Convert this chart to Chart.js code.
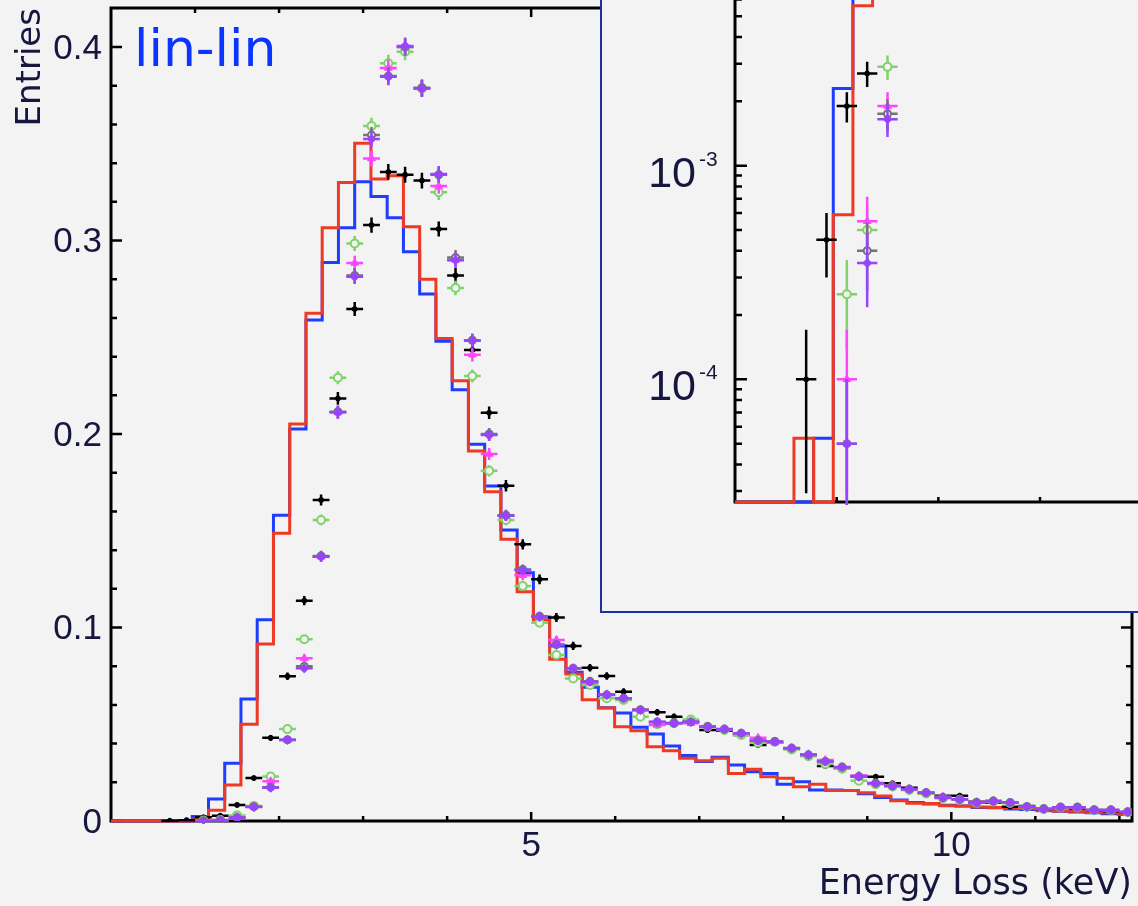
<!DOCTYPE html>
<html>
<head>
<meta charset="utf-8">
<title>Energy Loss</title>
<script src="https://cdn.jsdelivr.net/npm/chart.js@4.4.1/dist/chart.umd.min.js"></script>
<style>
  html, body { margin: 0; padding: 0; background: #f3f3f3; overflow: hidden; }
  #stage { position: relative; width: 1138px; height: 906px; overflow: hidden; background: #f3f3f3; }
  #mainChart { position: absolute; left: 0; top: 0; }
  #insetBox {
    position: absolute; left: 600px; top: -10px; width: 600px; height: 623px;
    box-sizing: border-box; background: #f3f3f3;
    border-left: 2px solid #1b2fa8; border-bottom: 2px solid #1b2fa8;
  }
  #insetChart { position: absolute; left: 600px; top: -54px; }
  #tag {
    position: absolute; left: 134px; top: 22px; line-height: 1;
    font-family: 'DejaVu Sans', sans-serif; font-size: 52px; color: #0b35ff;
  }
</style>
</head>
<body>
<div id="stage">
  <canvas id="mainChart" width="1138" height="906"></canvas>
  <div id="tag">lin-lin</div>
  <div id="insetBox"></div>
  <canvas id="insetChart" width="570" height="620"></canvas>
</div>
<script>
// binning (keV)
const HIST_BIN_WIDTH = 0.19333;   // simulated histograms
const DATA_BIN_WIDTH = 0.2;       // data points
const ENTRY_WEIGHT = 5e-5;        // weight of one entry, gives the poisson error bars

// simulated histograms, one value per bin starting at 0 keV
const histRed = [
  0, 0, 0, 0.000053, 0, 0.00059, 0.0056, 0.0186, 0.050, 0.0915,
  0.1487, 0.2052, 0.2624, 0.3066, 0.330, 0.3503, 0.3318, 0.3335, 0.3071, 0.280,
  0.2494, 0.2275, 0.1912, 0.1702, 0.1456, 0.1185, 0.1039, 0.0836, 0.076, 0.0627,
  0.0584, 0.0487, 0.0467, 0.0384, 0.0363, 0.0324, 0.0312, 0.0324, 0.0246, 0.0267,
  0.0229, 0.0221, 0.0177, 0.0190, 0.0157, 0.0157, 0.0146, 0.0129, 0.0105, 0.0092,
  0.0090, 0.0079, 0.0077, 0.0072, 0.0070, 0.0066, 0.0064, 0.0053, 0.0052, 0.0050,
  0.0044, 0.0042, 0.0036
];
const histBlue = [
  0, 0, 0, 0, 0.000053, 0.0023, 0.0114, 0.0298, 0.063, 0.104,
  0.158, 0.2026, 0.259, 0.2887, 0.3066, 0.3304, 0.3228, 0.3118, 0.2942, 0.2724,
  0.248, 0.2229, 0.1947, 0.1731, 0.1504, 0.1283, 0.1055, 0.0904, 0.0769, 0.0691,
  0.0585, 0.0558, 0.0484, 0.0450, 0.0388, 0.0338, 0.0307, 0.0329, 0.0289, 0.0255,
  0.0246, 0.0190, 0.0203, 0.0160, 0.0160, 0.0158, 0.0141, 0.0122, 0.0108, 0.0095,
  0.0088, 0.0082, 0.0077, 0.0070, 0.0068, 0.0062, 0.0060, 0.0055, 0.0050, 0.0047,
  0.0042, 0.0038, 0.0035
];

// data points, one value per 0.2 keV bin starting at 0 keV (0 = empty bin)
const dataBlack = [
  0, 0, 0, 0.0001, 0.00045, 0.0019, 0.0027, 0.0083, 0.0222, 0.043,
  0.0748, 0.1139, 0.1659, 0.2184, 0.2646, 0.308, 0.3355, 0.334, 0.331, 0.306,
  0.282, 0.2434, 0.211, 0.1733, 0.143, 0.1249, 0.1052, 0.0905, 0.0792, 0.0749,
  0.0668, 0.0574, 0.0562, 0.0539, 0.0513, 0.047, 0.0467, 0.0444, 0.0393, 0.0405,
  0.0376, 0.0345, 0.0284, 0.0272, 0.0233, 0.0229, 0.0195, 0.0172, 0.0143, 0.0131,
  0.0131, 0.0100, 0.0095, 0.0074, 0.0078, 0.0060, 0.0071, 0.0065, 0.0053, 0.0050,
  0.0043
];
const dataGreen = [
  0, 0, 0, 0, 0, 0.00025, 0.0005, 0.0029, 0.0078, 0.0230,
  0.0475, 0.0939, 0.1556, 0.2291, 0.2985, 0.3592, 0.3916, 0.3976, 0.3786, 0.3250,
  0.2755, 0.230, 0.181, 0.1556, 0.1214, 0.1025, 0.0858, 0.0737, 0.0703, 0.0634,
  0.0625, 0.0539, 0.050, 0.0505, 0.0525, 0.0487, 0.0470, 0.0445, 0.0405, 0.041,
  0.037, 0.0335, 0.0295, 0.027, 0.0208, 0.019, 0.0178, 0.016, 0.0142, 0.0118,
  0.011, 0.0094, 0.0101, 0.0093, 0.0073, 0.0062, 0.007, 0.007, 0.0057, 0.0056,
  0.0046
];
const dataMagenta = [
  0, 0, 0, 0, 0, 0.0001, 0.00055, 0.0019, 0.0074, 0.0205,
  0.0419, 0.0841, 0.1366, 0.2112, 0.2884, 0.3424, 0.3892, 0.400, 0.3786, 0.3282,
  0.290, 0.2410, 0.1897, 0.1578, 0.127, 0.1056, 0.0935, 0.0789, 0.0715, 0.0655,
  0.0634, 0.0574, 0.0496, 0.0505, 0.0505, 0.0487, 0.0474, 0.0453, 0.043, 0.0405,
  0.0376, 0.0345, 0.0315, 0.0278, 0.0235, 0.0195, 0.0185, 0.0164, 0.0146, 0.0125,
  0.0112, 0.0098, 0.0103, 0.0095, 0.0074, 0.0062, 0.0071, 0.0071, 0.0057, 0.0057,
  0.0047
];
const dataGray = [
  0, 0, 0, 0, 0, 0.00005, 0.0004, 0.00175, 0.0074, 0.0175,
  0.042, 0.080, 0.1370, 0.2115, 0.2820, 0.3545, 0.3850, 0.4000, 0.3790, 0.3340,
  0.2913, 0.2485, 0.2000, 0.1580, 0.1300, 0.1058, 0.0912, 0.0790, 0.0722, 0.0652,
  0.0635, 0.0575, 0.0512, 0.0506, 0.0512, 0.0488, 0.0475, 0.0454, 0.0416, 0.0411,
  0.0377, 0.0342, 0.0308, 0.0279, 0.0230, 0.0196, 0.0182, 0.0165, 0.0147, 0.0121,
  0.0113, 0.0096, 0.0103, 0.0095, 0.0074, 0.0063, 0.0071, 0.0071, 0.0057, 0.0057,
  0.0047
];
const dataPurple = [
  0, 0, 0, 0, 0, 0.00005, 0.00035, 0.00165, 0.0072, 0.0172,
  0.0419, 0.0789, 0.1366, 0.2112, 0.2813, 0.3525, 0.3847, 0.4005, 0.3786, 0.3344,
  0.2898, 0.2482, 0.1995, 0.1578, 0.1297, 0.1056, 0.091, 0.0789, 0.072, 0.0651,
  0.0634, 0.0574, 0.0513, 0.0505, 0.0513, 0.0487, 0.0474, 0.0453, 0.0415, 0.041,
  0.0376, 0.0341, 0.0307, 0.0278, 0.0229, 0.0195, 0.0181, 0.0164, 0.0146, 0.0120,
  0.0112, 0.0095, 0.0103, 0.0095, 0.0074, 0.0062, 0.0071, 0.0071, 0.0057, 0.0057,
  0.0047
];

// ticks
const xLabelTicks = [5, 10];
const xMinorTicks = [1, 2, 3, 4, 5, 6, 7, 8, 9, 10, 11, 12];
const yLabelTicks = [0, 0.1, 0.2, 0.3, 0.4];
const yMinorTicks = [0.02, 0.04, 0.06, 0.08, 0.12, 0.14, 0.16, 0.18,
                     0.22, 0.24, 0.26, 0.28, 0.32, 0.34, 0.36, 0.38];
const insetDecades = [[1e-4, '-4'], [1e-3, '-3']];
const insetMinorTicks = [3e-5, 4e-5, 5e-5, 6e-5, 7e-5, 8e-5, 9e-5,
                         2e-4, 3e-4, 4e-4, 5e-4, 6e-4, 7e-4, 8e-4, 9e-4,
                         2e-3, 3e-3, 4e-3, 5e-3, 6e-3, 7e-3, 8e-3, 9e-3];
const insetXTicks = [1, 2, 3, 4];

const INSET_MIN = 2.667e-5;
const INK = '#16163f';
const BG = '#f3f3f3';
const TICK_FONT = "'Liberation Sans', Arial, Helvetica, sans-serif";
const TITLE_FONT = "'DejaVu Sans', sans-serif";

const histSeries = [
  { values: histRed,  color: '#ee3a24', order: 6 },
  { values: histBlue, color: '#1e3dff', order: 7 }
];
const pointSeries = [
  { values: dataPurple,  color: '#9843ff', style: 'rectRot',  radius: 4.5, face: '#9843ff', order: 1 },
  { values: dataGray,    color: '#747474', style: 'circle',   radius: 3.5, face: BG,        order: 2 },
  { values: dataMagenta, color: '#ff45ff', style: 'triangle', radius: 4.5, face: '#ff45ff', order: 3 },
  { values: dataGreen,   color: '#7fd36a', style: 'circle',   radius: 4,   face: BG,        order: 4 },
  { values: dataBlack,   color: '#000000', style: 'circle',   radius: 2.5, face: '#000000', order: 5 }
];

function histPoints(values, floor) {
  const pts = values.map((v, k) => ({ x: k * HIST_BIN_WIDTH, y: (floor && v <= 0) ? floor : v }));
  pts.push({ x: values.length * HIST_BIN_WIDTH, y: pts[pts.length - 1].y });
  return pts;
}

function dataPoints(values) {
  return values.map((v, j) => ({ x: (j + 0.5) * DATA_BIN_WIDTH, y: v })).filter(p => p.y > 0);
}

function buildDatasets(floor) {
  const hists = histSeries.map(s => ({
    type: 'line',
    data: histPoints(s.values, floor),
    borderColor: s.color,
    borderWidth: 3,
    stepped: true,
    pointRadius: 0,
    fill: false,
    order: s.order,
    clip: { left: 0, top: 0, right: 0, bottom: 3 }
  }));
  const points = pointSeries.map(s => ({
    type: 'scatter',
    data: dataPoints(s.values),
    showLine: false,
    pointStyle: s.style,
    pointRadius: s.radius,
    pointBackgroundColor: s.face,
    pointBorderColor: s.color,
    pointBorderWidth: s.face === s.color ? 1 : 2,
    order: s.order,
    errColor: s.color
  }));
  return hists.concat(points);
}

// poisson error bars, drawn just before each dataset's markers
const errorBars = {
  id: 'errorBars',
  beforeDatasetDraw(chart, args) {
    const ds = chart.data.datasets[args.index];
    if (!ds.errColor) return;
    const { ctx, chartArea: a, scales: { x, y } } = chart;
    ctx.save();
    ctx.beginPath();
    ctx.rect(a.left, a.top, a.right - a.left, a.bottom - a.top + 3);
    ctx.clip();
    ctx.strokeStyle = ds.errColor;
    ctx.lineWidth = 2.5;
    ctx.beginPath();
    ds.data.forEach(p => {
      const err = Math.sqrt(p.y * ENTRY_WEIGHT);
      const px = x.getPixelForValue(p.x);
      const py = y.getPixelForValue(p.y);
      ctx.moveTo(x.getPixelForValue(p.x - DATA_BIN_WIDTH / 2), py);
      ctx.lineTo(x.getPixelForValue(p.x + DATA_BIN_WIDTH / 2), py);
      const lo = p.y - err;
      const yLo = lo > y.min ? y.getPixelForValue(lo) : a.bottom + 5;
      ctx.moveTo(px, y.getPixelForValue(p.y + err));
      ctx.lineTo(px, yLo);
    });
    ctx.stroke();
    ctx.restore();
  }
};

// box with inward ticks for the main plot
const mainFrame = {
  id: 'mainFrame',
  beforeDatasetsDraw(chart) {
    const { ctx, chartArea: a, scales: { x, y } } = chart;
    ctx.save();
    ctx.strokeStyle = '#000';
    ctx.lineWidth = 3;
    ctx.strokeRect(a.left, a.top, a.right - a.left, a.bottom - a.top);
    ctx.lineWidth = 2.5;
    ctx.beginPath();
    xMinorTicks.forEach(v => {
      const len = xLabelTicks.includes(v) ? 9 : 5;
      const px = x.getPixelForValue(v);
      ctx.moveTo(px, a.bottom); ctx.lineTo(px, a.bottom - len);
      ctx.moveTo(px, a.top); ctx.lineTo(px, a.top + len);
    });
    const yTicks = yLabelTicks.map(v => [v, 11]).concat(yMinorTicks.map(v => [v, 6]));
    yTicks.forEach(([v, len]) => {
      const py = y.getPixelForValue(v);
      ctx.moveTo(a.left, py); ctx.lineTo(a.left + len, py);
      ctx.moveTo(a.right, py); ctx.lineTo(a.right - len, py);
    });
    ctx.stroke();
    ctx.restore();
  }
};

// axes, ticks and power-of-ten labels for the log inset
const insetAxes = {
  id: 'insetAxes',
  beforeDatasetsDraw(chart) {
    const { ctx, chartArea: a, scales: { x, y } } = chart;
    ctx.save();
    ctx.strokeStyle = '#000';
    ctx.lineWidth = 3;
    ctx.beginPath();
    ctx.moveTo(a.left, a.top); ctx.lineTo(a.left, a.bottom); ctx.lineTo(a.right, a.bottom);
    ctx.stroke();
    ctx.lineWidth = 2.5;
    ctx.beginPath();
    insetDecades.forEach(([v]) => {
      const py = y.getPixelForValue(v);
      ctx.moveTo(a.left, py); ctx.lineTo(a.left + 12, py);
    });
    insetMinorTicks.forEach(v => {
      const py = y.getPixelForValue(v);
      ctx.moveTo(a.left, py); ctx.lineTo(a.left + 7, py);
    });
    insetXTicks.forEach(v => {
      const px = x.getPixelForValue(v);
      ctx.moveTo(px, a.bottom); ctx.lineTo(px, a.bottom - 5);
    });
    ctx.stroke();
    ctx.fillStyle = INK;
    ctx.textBaseline = 'alphabetic';
    insetDecades.forEach(([v, exp]) => {
      const py = y.getPixelForValue(v);
      ctx.font = '43px ' + TICK_FONT;
      ctx.textAlign = 'right';
      ctx.fillText('10', a.left - 39, py + 21);
      ctx.font = '21px ' + TICK_FONT;
      ctx.textAlign = 'left';
      ctx.fillText(exp, a.left - 36, py);
    });
    ctx.restore();
  }
};

new Chart(document.getElementById('mainChart'), {
  type: 'scatter',
  data: { datasets: buildDatasets(0) },
  options: {
    responsive: false,
    animation: false,
    devicePixelRatio: 1,
    events: [],
    layout: { padding: { left: 0, right: 1, top: 8, bottom: 0 } },
    plugins: { legend: { display: false }, tooltip: { enabled: false } },
    scales: {
      x: {
        type: 'linear',
        min: 0,
        max: 12.15,
        grid: { display: false, drawTicks: false },
        border: { display: false },
        afterBuildTicks: s => { s.ticks = xLabelTicks.map(v => ({ value: v })); },
        afterFit: s => { s.height = 85; s.paddingLeft = 0; s.paddingRight = 0; },
        ticks: {
          padding: 4, color: INK, autoSkip: false, maxRotation: 0,
          font: { family: TICK_FONT, size: 35 }
        },
        title: {
          display: true, text: 'Energy Loss (keV)', align: 'end', color: INK,
          font: { family: TITLE_FONT, size: 35 }, padding: { top: 0, bottom: 0 }
        }
      },
      y: {
        type: 'linear',
        min: 0,
        max: 0.4202,
        grid: { display: false, drawTicks: false },
        border: { display: false },
        afterBuildTicks: s => { s.ticks = yLabelTicks.map(v => ({ value: v })); },
        afterFit: s => { s.width = 111; s.paddingTop = 0; s.paddingBottom = 0; },
        ticks: {
          padding: 9, labelOffset: 2, color: INK,
          font: { family: TICK_FONT, size: 35 },
          callback: v => String(v)
        },
        title: {
          display: true, text: 'Entries', align: 'end', color: INK,
          font: { family: TITLE_FONT, size: 34 }, padding: { top: 11, bottom: 0 }
        }
      }
    }
  },
  plugins: [mainFrame, errorBars]
});

new Chart(document.getElementById('insetChart'), {
  type: 'scatter',
  data: { datasets: buildDatasets(INSET_MIN) },
  options: {
    responsive: false,
    animation: false,
    devicePixelRatio: 1,
    events: [],
    layout: { padding: { left: 135, right: 8, top: 0, bottom: 64 } },
    plugins: { legend: { display: false }, tooltip: { enabled: false } },
    scales: {
      x: { type: 'linear', min: 0, max: 4.2, display: false },
      y: { type: 'logarithmic', min: INSET_MIN, max: 1e-2, display: false }
    }
  },
  plugins: [insetAxes, errorBars]
});
</script>
</body>
</html>
